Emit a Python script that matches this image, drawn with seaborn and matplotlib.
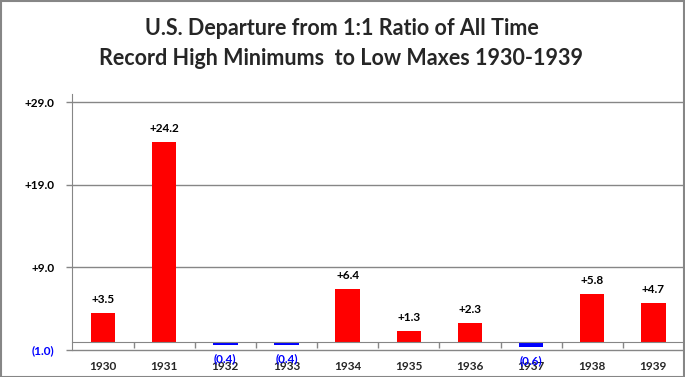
import matplotlib
matplotlib.use('Agg')
import matplotlib.pyplot as plt
import seaborn as sns
import pandas as pd
from matplotlib.patches import Rectangle

# datos
years = ['1930', '1931', '1932', '1933', '1934', '1935', '1936', '1937', '1938', '1939']
departure = [3.5, 24.2, -0.4, -0.4, 6.4, 1.3, 2.3, -0.6, 5.8, 4.7]
y_ticks = [-1.0, 9.0, 19.0, 29.0]
title = 'U.S. Departure from 1:1 Ratio of All Time\nRecord High Minimums  to Low Maxes 1930-1939'

RED = '#FF0000'
BLUE = '#0000FF'
GRAY = '#868686'


def fmt(v):
    # positivos con signo, negativos entre parentesis
    return f'+{v:.1f}' if v >= 0 else f'({abs(v):.1f})'


df = pd.DataFrame({'Year': years, 'Departure': departure})
df['Sign'] = ['pos' if v >= 0 else 'neg' for v in df['Departure']]

sns.set_style('white')
plt.rcParams['font.family'] = ['Lato', 'DejaVu Sans']

fig = plt.figure(figsize=(6.85, 3.77), dpi=100)
ax = fig.add_axes([0.1058, 0.0716, 0.8927, 0.679])

sns.barplot(data=df, x='Year', y='Departure', hue='Sign',
            palette={'pos': RED, 'neg': BLUE}, width=0.4, dodge=False,
            saturation=1, linewidth=0, legend=False, ax=ax)

ax.set_xlim(-0.5, len(years) - 0.5)
ax.set_ylim(-1, 30)
ax.set_xlabel('')
ax.set_ylabel('')

# etiquetas de valores
for i, v in enumerate(departure):
    if v >= 0:
        ax.annotate(fmt(v), (i, v), xytext=(0, 9.5), textcoords='offset points',
                    ha='center', va='center', fontsize=8.5, fontweight='bold', color='black')
    else:
        ax.annotate(fmt(v), (i, v), xytext=(0, -10), textcoords='offset points',
                    ha='center', va='center', fontsize=8.5, fontweight='bold', color=BLUE)

# eje y
ax.set_yticks(y_ticks)
ax.set_yticklabels([fmt(t) for t in y_ticks], fontsize=8.5, fontweight='bold')
for lab, t in zip(ax.get_yticklabels(), y_ticks):
    lab.set_color(BLUE if t < 0 else 'black')
ax.tick_params(axis='y', direction='out', length=4, width=1, color=GRAY, pad=9, left=True)
ax.yaxis.grid(True, color=GRAY, lw=1)
ax.xaxis.grid(False)
for gl in ax.get_ygridlines():
    gl.set_clip_on(False)

# eje x en el cero
ax.spines['bottom'].set_position(('data', 0))
ax.spines['bottom'].set_color(GRAY)
ax.spines['left'].set_color(GRAY)
ax.spines['top'].set_visible(False)
ax.spines['right'].set_visible(False)
ax.set_xticks([i + 0.5 for i in range(len(years) - 1)], minor=True)
ax.tick_params(axis='x', which='minor', direction='out', length=4, width=1, color=GRAY, bottom=True)
ax.tick_params(axis='x', which='major', length=0, pad=14, labelsize=8.5)
for lab in ax.get_xticklabels():
    lab.set_fontweight('bold')

fig.text(0.4985, 0.884, title, ha='center', va='center', fontsize=15.5,
         fontweight='bold', linespacing=1.55)

fig.patches.append(Rectangle((0.001, 0.001), 0.997, 0.997, transform=fig.transFigure,
                             fill=False, edgecolor=GRAY, lw=1.5))

fig.savefig('out.png', dpi=100)
